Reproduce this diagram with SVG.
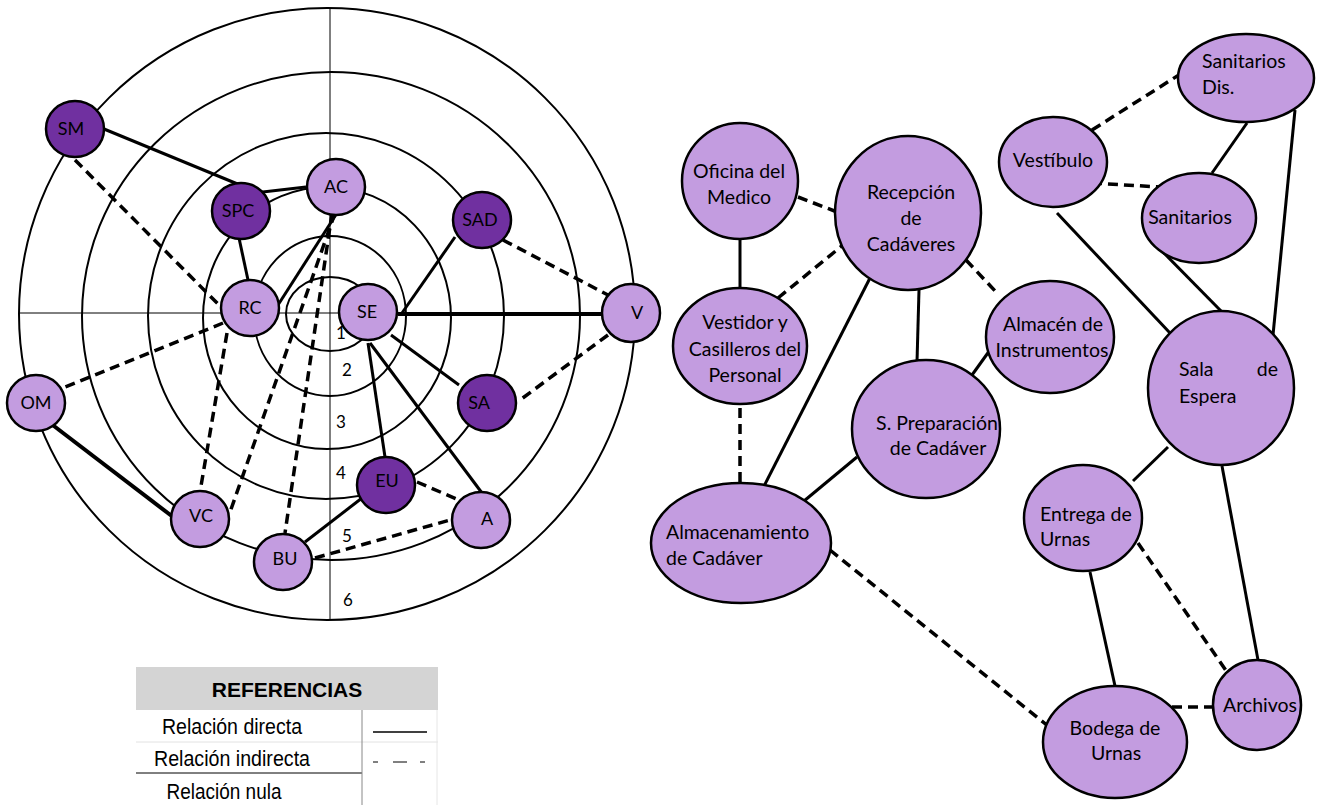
<svg xmlns="http://www.w3.org/2000/svg" width="1325" height="805" viewBox="0 0 1325 805">
<style>
.ring{fill:none;stroke:#000;stroke-width:2}
.axis{stroke:#000;stroke-width:1}
.s{stroke:#000;stroke-width:3;fill:none}
.d{stroke:#000;stroke-width:3.5;fill:none;stroke-dasharray:10,6}
.lt{fill:#c39ce0;stroke:#000;stroke-width:2.5}
.dk{fill:#7030a0;stroke:#000;stroke-width:2.5}
.t{font-family:Lato,"Open Sans",sans-serif;font-size:18px;fill:#000}
.r{font-size:19.5px}
.tc{text-anchor:middle}
.num{font-family:Lato,"Open Sans",sans-serif;font-size:17px;fill:#000}
.lg{font-family:"Liberation Sans",Arial,sans-serif;fill:#000}
</style>
<rect width="1325" height="805" fill="#fff"/>
<g id="rings">
<ellipse class="ring" cx="327" cy="314" rx="308" ry="306"/>
<ellipse class="ring" cx="331" cy="316" rx="249" ry="244"/>
<ellipse class="ring" cx="326" cy="316" rx="178" ry="183"/>
<ellipse class="ring" cx="327" cy="318" rx="124" ry="131"/>
<ellipse class="ring" cx="330" cy="316" rx="76" ry="80"/>
<ellipse class="ring" cx="330" cy="314" rx="44" ry="37"/>
<line class="axis" x1="330" y1="8" x2="330" y2="620"/>
<line class="axis" x1="19" y1="313" x2="635" y2="313"/>
</g>
<g id="ring-numbers" class="num">
<text x="341" y="339" text-anchor="middle">1</text>
<text x="347" y="376" text-anchor="middle">2</text>
<text x="341" y="428" text-anchor="middle">3</text>
<text x="341" y="479" text-anchor="middle">4</text>
<text x="347" y="542" text-anchor="middle">5</text>
<text x="348" y="606" text-anchor="middle">6</text>
</g>
<g id="connectors-left">
<line class="s" x1="104" y1="129" x2="240" y2="185"/>
<line class="s" x1="253" y1="193" x2="306" y2="187"/>
<line class="s" x1="239" y1="238" x2="248" y2="280"/>
<line class="s" x1="278" y1="305" x2="337" y2="213"/>
<line class="s" x1="402" y1="313" x2="455" y2="237"/>
<line class="s" x1="398" y1="314" x2="602" y2="314" style="stroke-width:4"/>
<line class="s" x1="391" y1="335" x2="459" y2="385"/>
<line class="s" x1="368" y1="343" x2="385" y2="457"/>
<line class="s" x1="370" y1="343" x2="482" y2="493"/>
<line class="s" x1="50" y1="423" x2="173" y2="517" style="stroke-width:4"/>
<line class="s" x1="362" y1="498" x2="305" y2="542"/>
<line class="d" x1="75" y1="160" x2="219" y2="305"/>
<line class="d" x1="503" y1="240" x2="608" y2="295"/>
<line class="d" x1="223" y1="323" x2="63" y2="388"/>
<line class="d" x1="227" y1="333" x2="200" y2="492"/>
<line class="d" x1="335" y1="213" x2="229" y2="515"/>
<line class="d" x1="332" y1="213" x2="285" y2="533"/>
<line class="d" x1="608" y1="335" x2="520" y2="400"/>
<line class="d" x1="417" y1="482" x2="459" y2="500"/>
<line class="d" x1="315" y1="558" x2="450" y2="520"/>
</g>
<g id="n-SM"><ellipse class="dk" cx="75" cy="129" rx="29" ry="28"/><text class="t tc" x="71" y="135">SM</text></g>
<g id="n-SPC"><ellipse class="dk" cx="241" cy="211" rx="29" ry="28"/><text class="t tc" x="238" y="217">SPC</text></g>
<g id="n-AC"><ellipse class="lt" cx="336" cy="187" rx="29" ry="28"/><text class="t tc" x="336" y="193">AC</text></g>
<g id="n-SAD"><ellipse class="dk" cx="482" cy="220" rx="29" ry="28"/><text class="t tc" x="480" y="226">SAD</text></g>
<g id="n-RC"><ellipse class="lt" cx="250" cy="308" rx="29" ry="28"/><text class="t tc" x="250" y="314">RC</text></g>
<g id="n-SE"><ellipse class="lt" cx="368" cy="312" rx="29" ry="28"/><text class="t tc" x="367" y="318">SE</text></g>
<g id="n-V"><ellipse class="lt" cx="631" cy="313" rx="29" ry="29"/><text class="t tc" x="637" y="319">V</text></g>
<g id="n-OM"><ellipse class="lt" cx="36" cy="403" rx="29" ry="28"/><text class="t tc" x="36" y="409">OM</text></g>
<g id="n-SA"><ellipse class="dk" cx="487" cy="403" rx="29" ry="28"/><text class="t tc" x="479" y="409">SA</text></g>
<g id="n-EU"><ellipse class="dk" cx="386" cy="485" rx="29" ry="28"/><text class="t tc" x="387" y="487">EU</text></g>
<g id="n-VC"><ellipse class="lt" cx="200" cy="519" rx="29" ry="28"/><text class="t tc" x="201" y="522">VC</text></g>
<g id="n-A"><ellipse class="lt" cx="481" cy="520" rx="29" ry="28"/><text class="t tc" x="487" y="525">A</text></g>
<g id="n-BU"><ellipse class="lt" cx="283" cy="562" rx="29" ry="28"/><text class="t tc" x="285" y="565">BU</text></g>
<g id="legend">
<rect x="136" y="667" width="302" height="43" fill="#d4d4d4"/>
<line x1="136" y1="742" x2="438" y2="742" stroke="#e2e2e2" stroke-width="1"/>
<line x1="136" y1="773" x2="362" y2="773" stroke="#000" stroke-width="1"/>
<line x1="362" y1="710" x2="362" y2="805" stroke="#888" stroke-width="1"/>
<line x1="437" y1="710" x2="437" y2="805" stroke="#e6e6e6" stroke-width="1"/>
<text class="lg" x="287" y="697" text-anchor="middle" font-size="21" font-weight="bold">REFERENCIAS</text>
<text class="lg" x="232" y="734" text-anchor="middle" font-size="22" textLength="140" lengthAdjust="spacingAndGlyphs">Relación directa</text>
<text class="lg" x="232" y="766" text-anchor="middle" font-size="22" textLength="156" lengthAdjust="spacingAndGlyphs">Relación indirecta</text>
<text class="lg" x="224" y="799" text-anchor="middle" font-size="22" textLength="115" lengthAdjust="spacingAndGlyphs">Relación nula</text>
<line x1="373" y1="732" x2="427" y2="732" stroke="#000" stroke-width="1.5"/>
<line x1="373" y1="762" x2="427" y2="762" stroke="#000" stroke-width="1" stroke-dasharray="5,15,14,13,5"/>
</g>
<g id="connectors-right">
<line class="s" x1="740" y1="239" x2="740" y2="288"/>
<line class="s" x1="919" y1="290" x2="917" y2="362"/>
<line class="s" x1="870" y1="278" x2="763" y2="488"/>
<line class="s" x1="990" y1="350" x2="972" y2="375"/>
<line class="s" x1="857" y1="457" x2="804" y2="501"/>
<line class="s" x1="1057" y1="213" x2="1170" y2="333"/>
<line class="s" x1="1247" y1="123" x2="1212" y2="173"/>
<line class="s" x1="1295" y1="110" x2="1273" y2="335"/>
<line class="s" x1="1158" y1="247" x2="1223" y2="313"/>
<line class="s" x1="1168" y1="447" x2="1133" y2="481"/>
<line class="s" x1="1222" y1="466" x2="1258" y2="660"/>
<line class="s" x1="1090" y1="572" x2="1115" y2="686"/>
<line class="d" x1="798" y1="197" x2="837" y2="212"/>
<line class="d" x1="778" y1="298" x2="843" y2="245"/>
<line class="d" x1="966" y1="260" x2="997" y2="293"/>
<line class="d" x1="740" y1="408" x2="740" y2="483"/>
<line class="d" x1="1092" y1="130" x2="1182" y2="73"/>
<line class="d" x1="1092" y1="183" x2="1160" y2="187"/>
<line class="d" x1="830" y1="550" x2="1048" y2="726"/>
<line class="d" x1="1138" y1="543" x2="1227" y2="672"/>
<line class="d" x1="1172" y1="707" x2="1215" y2="707"/>
</g>
<g id="n-oficina"><ellipse class="lt" cx="740" cy="181" rx="58" ry="58"/><text class="t r tc" x="739" y="178">Oficina del</text><text class="t r tc" x="739" y="204">Medico</text></g>
<g id="n-recepcion"><ellipse class="lt" cx="908" cy="213" rx="73" ry="77"/><text class="t r tc" x="911" y="199">Recepción</text><text class="t r tc" x="911" y="225">de</text><text class="t r tc" x="911" y="251">Cadáveres</text></g>
<g id="n-vestidor"><ellipse class="lt" cx="740" cy="346" rx="67" ry="58"/><text class="t r tc" x="745" y="329">Vestidor y</text><text class="t r tc" x="745" y="356">Casilleros del</text><text class="t r tc" x="745" y="382">Personal</text></g>
<g id="n-almacen-instr"><ellipse class="lt" cx="1050" cy="337" rx="64" ry="56"/><text class="t r tc" x="1053" y="331">Almacén de</text><text class="t r tc" x="1052" y="357">Instrumentos</text></g>
<g id="n-preparacion"><ellipse class="lt" cx="926" cy="429" rx="74" ry="69"/><text class="t r tc" x="937" y="430">S. Preparación</text><text class="t r tc" x="938" y="455">de Cadáver</text></g>
<g id="n-almacenamiento"><ellipse class="lt" cx="741" cy="543" rx="90" ry="60"/><text class="t r" x="666" y="539">Almacenamiento</text><text class="t r" x="666" y="565">de Cadáver</text></g>
<g id="n-vestibulo"><ellipse class="lt" cx="1053" cy="162" rx="54" ry="45"/><text class="t r tc" x="1053" y="167">Vestíbulo</text></g>
<g id="n-sanitarios-dis"><ellipse class="lt" cx="1246" cy="78" rx="68" ry="44"/><text class="t r" x="1202" y="68">Sanitarios</text><text class="t r" x="1202" y="94">Dis.</text></g>
<g id="n-sanitarios"><ellipse class="lt" cx="1199" cy="218" rx="57" ry="45"/><text class="t r tc" x="1190" y="224">Sanitarios</text></g>
<g id="n-sala"><ellipse class="lt" cx="1221" cy="388" rx="73" ry="77"/><text class="t r" x="1179" y="376">Sala</text><text class="t r" x="1278" y="376" text-anchor="end">de</text><text class="t r" x="1179" y="403">Espera</text></g>
<g id="n-entrega"><ellipse class="lt" cx="1083" cy="518" rx="59" ry="53"/><text class="t r" x="1040" y="521">Entrega de</text><text class="t r" x="1040" y="546">Urnas</text></g>
<g id="n-bodega"><ellipse class="lt" cx="1115" cy="742" rx="72" ry="56"/><text class="t r tc" x="1115" y="735">Bodega de</text><text class="t r tc" x="1116" y="760">Urnas</text></g>
<g id="n-archivos"><ellipse class="lt" cx="1257" cy="705" rx="44" ry="45"/><text class="t r tc" x="1260" y="712">Archivos</text></g>
</svg>
